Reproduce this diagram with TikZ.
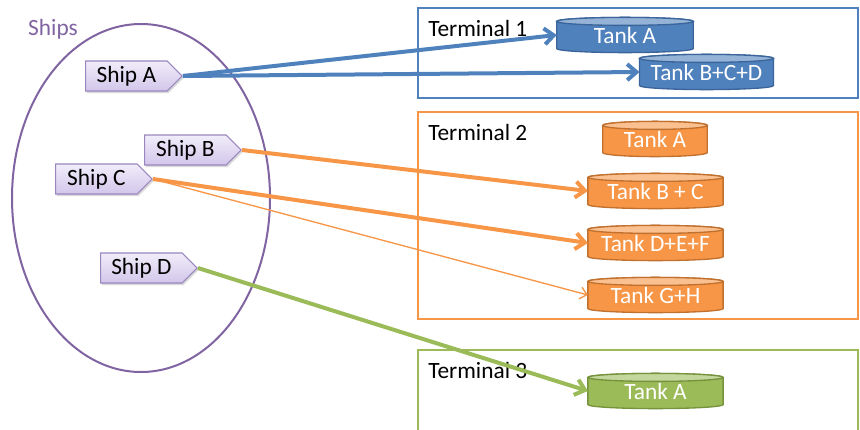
\documentclass[tikz,border=0pt]{standalone}
\usepackage{fontspec}
\setmainfont{Carlito}
\usetikzlibrary{shapes.geometric,shapes.symbols,arrows.meta,shadows,calc}
\pgfdeclarelayer{bottom}
\pgfdeclarelayer{background}
\pgfsetlayers{bottom,background,main}
\definecolor{tblue}{HTML}{4F81BD}
\definecolor{tblueb}{HTML}{3A649A}
\definecolor{tbluet}{HTML}{95B3D7}
\definecolor{torange}{HTML}{F79646}
\definecolor{toranged}{HTML}{C0702F}
\definecolor{toranget}{HTML}{FAC090}
\definecolor{tgreen}{HTML}{9BBB59}
\definecolor{tgreenb}{HTML}{76923C}
\definecolor{tgreent}{HTML}{C3D69B}
\definecolor{tpurple}{HTML}{8064A2}
\definecolor{shipb}{HTML}{9A86BE}
\definecolor{shiptop}{HTML}{F1EDFA}
\definecolor{shipbot}{HTML}{D2C6EA}
\newcommand\drawtank[4]{%
  \begin{pgfonlayer}{background}
  \filldraw[fill=#2,draw=#4,line width=1pt] let \p1=(#1.north west), \p2=(#1.south east), \n1={(\x2-\x1)/2} in
    (\x1,\y1-3pt) -- (\x1,\y2+3pt) arc[start angle=180,end angle=360,x radius=\n1,y radius=3pt]
    -- (\x2,\y1-3pt) arc[start angle=0,end angle=180,x radius=\n1,y radius=3pt] -- cycle;
  \filldraw[fill=#3,draw=#4,line width=1pt] let \p1=(#1.north west), \p2=(#1.south east), \n1={(\x2-\x1)/2} in
    ([yshift=-3pt]#1.north) ellipse[x radius=\n1,y radius=3pt];
  \end{pgfonlayer}}
\tikzset{
  tank/.style={inner sep=0pt, text=white, minimum height=26pt,
    execute at begin node={\lower1.5pt\hbox\bgroup}, execute at end node={\egroup}},
  ship/.style={signal, signal to=east, signal pointer angle=90, draw=shipb, line width=0.8pt,
    top color=shiptop, bottom color=shipbot, minimum height=22.5pt, minimum width=72.5pt,
    inner sep=1pt, anchor=west, drop shadow={shadow xshift=1pt, shadow yshift=-1.5pt, opacity=0.3}},
  termlabel/.style={inner sep=0pt, anchor=west, text=black},
  term/.style={line width=1.5pt},
  flow/.style={line width=3pt, -{Straight Barb[length=7pt,width=12pt]}},
  thinflow/.style={line width=1pt, -{Straight Barb[length=5pt,width=9pt]}}
}
\begin{document}
\begin{tikzpicture}[x=0.75pt,y=0.75pt,font=\fontsize{17.5}{20}\selectfont]
\useasboundingbox (0,0) rectangle (860,-429);
% terminal boxes
\begin{pgfonlayer}{bottom}
\draw[term,tblue] (418,-8) rectangle (858,-98);
\draw[term,torange] (418,-112) rectangle (858,-319);
\draw[term,tgreen] (418,-440) |- (858,-350) -- (858,-440);
\end{pgfonlayer}
\node[termlabel] (t1lab) at (428,-28) {Terminal 1};
\node[termlabel] (t2lab) at (428,-132) {Terminal 2};
\node[termlabel] (t3lab) at (428,-370) {Terminal 3};
% ships ellipse
\node[ellipse, draw=tpurple, line width=1.5pt, minimum width=193.5pt, minimum height=261pt, inner sep=0pt] (ships) at (141,-198) {};
\node[text=tpurple, inner sep=0pt] (shipslab) at (53,-29) {Ships};
% tanks
\node[tank, minimum width=102pt] (t1a) at (625,-35) {Tank A};
\node[tank, minimum width=100pt] (t1b) at (706.5,-72) {Tank B+C+D};
\node[tank, minimum width=78pt] (t2a) at (655,-139) {Tank A};
\node[tank, minimum width=101pt] (t2b) at (655.5,-191) {Tank B + C};
\node[tank, minimum width=101pt] (t2d) at (655.5,-243) {Tank D+E+F};
\node[tank, minimum width=101pt] (t2g) at (655.5,-295) {Tank G+H};
\node[tank, minimum width=101pt] (t3a) at (655.5,-391) {Tank A};
\drawtank{t1a}{tblue}{tbluet}{tblueb}
\drawtank{t1b}{tblue}{tbluet}{tblueb}
\drawtank{t2a}{torange}{toranget}{toranged}
\drawtank{t2b}{torange}{toranget}{toranged}
\drawtank{t2d}{torange}{toranget}{toranged}
\drawtank{t2g}{torange}{toranget}{toranged}
\drawtank{t3a}{tgreen}{tgreent}{tgreenb}
% ships
\node[ship] (sa) at (85,-76) {Ship A};
\node[ship] (sb) at (144,-150) {Ship B};
\node[ship] (sc) at (55,-179) {Ship C};
\node[ship] (sd) at (100,-268) {Ship D};
% flows
\draw[flow,tblue] (sa.east) -- (t1a.west);
\draw[flow,tblue] (sa.east) -- (t1b.west);
\draw[flow,torange] (sb.east) -- (t2b.west);
\draw[flow,torange] (sc.east) -- (t2d.west);
\draw[thinflow,torange] (sc.east) -- (t2g.west);
\draw[flow,tgreen] (sd.east) -- (t3a.west);
\end{tikzpicture}
\end{document}
